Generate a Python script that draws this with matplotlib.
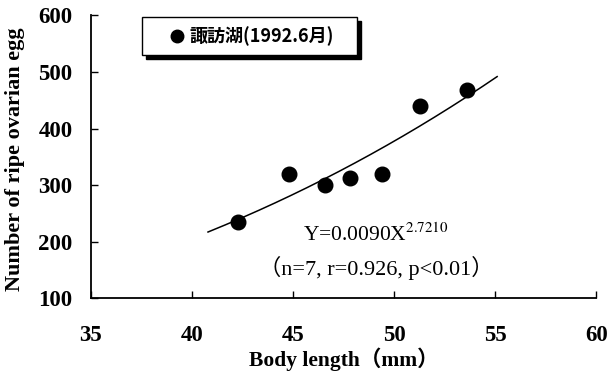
import numpy as np
import matplotlib
matplotlib.use("Agg")
import matplotlib.pyplot as plt
from matplotlib.patches import Rectangle

# data
body_length = [42.3, 44.8, 46.6, 47.8, 49.4, 51.3, 53.6]
egg_count = [235, 320, 300, 313, 320, 440, 468]
fit_a = 0.0090
fit_b = 2.7210
fit_range = [40.8, 55.1]
x_ticks = [35, 40, 45, 50, 55, 60]
y_ticks = [100, 200, 300, 400, 500, 600]
legend_label = "諏訪湖(1992.6月)"

serif = ["Liberation Serif", "Noto Sans CJK JP"]
cjk = ["Noto Sans CJK JP", "DejaVu Sans"]

fig = plt.figure(figsize=(6.09, 3.74), dpi=100)
ax = fig.add_axes([0.149, 0.2024, 0.830, 0.7562])

ax.plot(body_length, egg_count, "o", color="black", markersize=10.5, zorder=3)
xf = np.linspace(fit_range[0], fit_range[1], 200)
ax.plot(xf, fit_a * xf ** fit_b, color="black", lw=1.1)

ax.set_xlim(35, 60)
ax.set_ylim(100, 600)
ax.set_xticks(x_ticks)
ax.set_yticks(y_ticks)
for s in ["top", "right"]:
    ax.spines[s].set_visible(False)
for s in ["left", "bottom"]:
    ax.spines[s].set_linewidth(1.3)
ax.tick_params(axis="both", direction="in", length=5, width=1)
ax.tick_params(axis="x", pad=19)
ax.tick_params(axis="y", pad=13)
for lab in ax.get_xticklabels() + ax.get_yticklabels():
    lab.set_fontfamily(serif)
    lab.set_fontweight("bold")
    lab.set_fontsize(16.5)

ax.set_xlabel("Body length（mm）", family=serif, fontweight="bold", fontsize=15.5, labelpad=1)
fig.text(0.024, 0.575, "Number of ripe ovarian egg", rotation=90, ha="center", va="center",
         family=serif, fontweight="bold", fontsize=16)

ax.text(0.564, 0.224, "Y=0.0090X$^{2.7210}$", transform=ax.transAxes, ha="center", va="center",
        family=serif, fontsize=15.5, math_fontfamily="stix")
ax.text(0.564, 0.107, "（n=7, r=0.926, p<0.01）", transform=ax.transAxes, ha="center", va="center",
        family=serif, fontsize=16)

# legend box with shadow
bx0, by0, bx1, by1 = 142, 17, 357, 55
H = 374
shadow = Rectangle((bx0 + 4, H - by1 - 4), bx1 - bx0, by1 - by0, transform=None,
                   facecolor="black", edgecolor="black", zorder=4)
box = Rectangle((bx0, H - by1), bx1 - bx0, by1 - by0, transform=None,
                facecolor="white", edgecolor="black", lw=1.0, zorder=5)
fig.patches.extend([shadow, box])
fig.lines.append(matplotlib.lines.Line2D([177 / 609], [1 - 36 / 374], transform=fig.transFigure,
                                         marker="o", color="black", markersize=9, zorder=6))
fig.text(190 / 609, 1 - 36 / 374, legend_label, ha="left", va="center", family=cjk,
         fontsize=13, fontweight="bold", zorder=6)

fig.savefig("out.png", dpi=100)
